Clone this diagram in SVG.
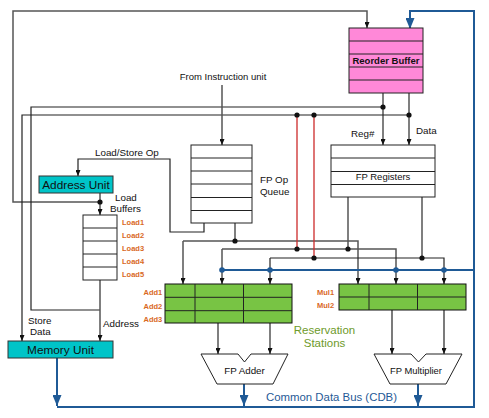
<svg xmlns="http://www.w3.org/2000/svg" width="489" height="418" viewBox="0 0 489 418">
<style>
text{font-family:"Liberation Sans",Arial,sans-serif;fill:#111}
.lbl{font-size:9.8px}
.unit{font-size:11.8px}
.ord{font-size:7.5px;font-weight:bold;fill:#D9691F}
.box{fill:#fff;stroke:#222;stroke-width:1}
.row{stroke:#222;stroke-width:1}
.teal{fill:#00C4C8;stroke:#333;stroke-width:1}
.green{fill:#78C444;stroke:#111;stroke-width:1}
.gw{fill:none;stroke:#555;stroke-width:1.5}
.kw{fill:none;stroke:#222;stroke-width:1.2}
.red{fill:none;stroke:#CC2A2A;stroke-width:1.3}
.blue{fill:none;stroke:#1F5A96;stroke-width:2}
.dot{fill:#111}
.bdot{fill:#1F5A96}
</style>
<defs>
<marker id="ah" markerUnits="userSpaceOnUse" markerWidth="6" markerHeight="5" refX="6" refY="2.5" orient="auto" viewBox="0 0 6 5">
<path d="M0,0 L6,2.5 L0,5 Z" fill="#111"/>
</marker>
<marker id="ab" markerUnits="userSpaceOnUse" markerWidth="11" markerHeight="9" refX="11" refY="4.5" orient="auto" viewBox="0 0 11 9">
<path d="M0,0 L11,4.5 L0,9 Z" fill="#1F5A96"/>
</marker>
</defs>

<g id="connectors">
<path class="gw" d="M100,202 H13 V11 H367 V28" marker-end="url(#ah)"/>
<path class="gw" d="M100,193 V215" marker-end="url(#ah)"/>
<path class="gw" d="M383,93 V145" marker-end="url(#ah)"/>
<path class="gw" d="M409,93 V145" marker-end="url(#ah)"/>
<path class="kw" d="M383,107 H31 V310 H100"/>
<path class="kw" d="M409,115 H22 V341" marker-end="url(#ah)"/>
<path class="gw" d="M100,280 V341" marker-end="url(#ah)"/>
<path class="gw" d="M222,85 V145" marker-end="url(#ah)"/>
<path class="kw" d="M204,223 V232 H170 V159 H78 V176" marker-end="url(#ah)"/>
<path class="gw" d="M235,223 V241"/>
<path class="gw" d="M183,241 V284" marker-end="url(#ah)"/>
<path class="gw" d="M183,241 H358 V284" marker-end="url(#ah)"/>
<path class="gw" d="M222,249 V284" marker-end="url(#ah)"/>
<path class="gw" d="M222,249 H396 V284" marker-end="url(#ah)"/>
<path class="kw" d="M270,258 V284" marker-end="url(#ah)"/>
<path class="kw" d="M270,258 H444 V284" marker-end="url(#ah)"/>
<path class="gw" d="M348,197 V249"/>
<path class="gw" d="M422,197 V258"/>
<path class="red" d="M297,115 V249"/>
<path class="red" d="M314,115 V258"/>
<path class="gw" d="M218,323 V354" marker-end="url(#ah)"/>
<path class="gw" d="M270,323 V354" marker-end="url(#ah)"/>
<path class="kw" d="M392,310 V354" marker-end="url(#ah)"/>
<path class="kw" d="M444,310 V354" marker-end="url(#ah)"/>
<path class="blue" d="M57,407 H474 V11 H410 V29" marker-end="url(#ab)"/>
<path class="blue" d="M222,270 H474"/>
<path class="blue" d="M57,358 V406" marker-end="url(#ab)"/>
<path class="blue" d="M244,384 V406" marker-end="url(#ab)"/>
<path class="blue" d="M418,384 V406" marker-end="url(#ab)"/>
<circle class="dot" cx="100" cy="202" r="2.6"/>
<circle class="dot" cx="383" cy="107" r="2.6"/>
<circle class="dot" cx="409" cy="115" r="2.6"/>
<circle class="dot" cx="297" cy="115" r="2.6"/>
<circle class="dot" cx="314" cy="115" r="2.6"/>
<circle class="dot" cx="235" cy="241" r="2.6"/>
<circle class="dot" cx="297" cy="249" r="2.6"/>
<circle class="dot" cx="348" cy="249" r="2.6"/>
<circle class="dot" cx="314" cy="258" r="2.6"/>
<circle class="dot" cx="422" cy="258" r="2.6"/>
<circle class="bdot" cx="222" cy="270" r="2.8"/>
<circle class="bdot" cx="270" cy="270" r="2.8"/>
<circle class="bdot" cx="396" cy="270" r="2.8"/>
<circle class="bdot" cx="444" cy="270" r="2.8"/>
</g>

<g id="rob">
<rect x="349" y="28" width="74" height="65" fill="#FF88D8" stroke="#222" stroke-width="1"/>
<path class="row" d="M349,41 H423 M349,54 H423 M349,67 H423 M349,80 H423"/>
<text x="386" y="63.5" font-size="9.5" font-weight="bold" text-anchor="middle">Reorder Buffer</text>
</g>

<g id="fp-registers">
<rect class="box" x="331" y="145" width="104" height="52"/>
<path class="row" d="M331,158 H435 M331,171.5 H435 M331,184.5 H435"/>
<text x="383" y="179.5" text-anchor="middle" style="font-size:9.5px">FP Registers</text>
</g>

<g id="fp-op-queue">
<rect class="box" x="191" y="145" width="61" height="78"/>
<path class="row" d="M191,158 H252 M191,171 H252 M191,184 H252 M191,197.5 H252 M191,210.5 H252"/>
<text class="lbl" x="260" y="183">FP Op</text>
<text class="lbl" x="260" y="195">Queue</text>
</g>

<g id="address-unit">
<rect class="teal" x="39" y="176" width="74" height="17"/>
<text class="unit" x="76" y="189" text-anchor="middle">Address Unit</text>
</g>

<g id="load-buffers">
<rect class="box" x="83" y="215" width="34" height="65"/>
<path class="row" d="M83,228 H117 M83,241 H117 M83,254 H117 M83,267 H117"/>
<text class="lbl" x="115" y="200.5">Load</text>
<text class="lbl" x="110" y="212">Buffers</text>
<text class="ord" x="122" y="224.5">Load1</text>
<text class="ord" x="122" y="237.5">Load2</text>
<text class="ord" x="122" y="250.5">Load3</text>
<text class="ord" x="122" y="263.5">Load4</text>
<text class="ord" x="122" y="276.5">Load5</text>
</g>

<g id="memory-unit">
<rect class="teal" x="8" y="341" width="105" height="17"/>
<text class="unit" x="60.5" y="354" text-anchor="middle">Memory Unit</text>
</g>

<g id="add-rs">
<rect class="green" x="165" y="284" width="127" height="39"/>
<path class="row" d="M165,297.3 H292 M165,310.7 H292 M195,284 V323 M243.5,284 V323"/>
<text class="ord" x="143.5" y="295">Add1</text>
<text class="ord" x="143.5" y="308.5">Add2</text>
<text class="ord" x="143.5" y="321.5">Add3</text>
</g>

<g id="mul-rs">
<rect class="green" x="339" y="284" width="127" height="26"/>
<path class="row" d="M339,297 H466 M369,284 V310 M417.5,284 V310"/>
<text class="ord" x="317" y="295">Mul1</text>
<text class="ord" x="317" y="308">Mul2</text>
</g>

<g id="fp-adder">
<polygon points="201,354 238,354 244.5,362 251,354 288,354 273,384 217,384" fill="#fff" stroke="#222" stroke-width="1"/>
<text class="lbl" x="244.5" y="373.5" text-anchor="middle">FP Adder</text>
</g>

<g id="fp-multiplier">
<polygon points="374,354 411,354 418.5,362 426,354 462,354 446,384 390,384" fill="#fff" stroke="#222" stroke-width="1"/>
<text x="416" y="373.5" text-anchor="middle" style="font-size:9.4px">FP Multiplier</text>
</g>

<g id="labels">
<text x="223" y="80" text-anchor="middle" style="font-size:9.5px">From Instruction unit</text>
<text class="lbl" x="95" y="155.5">Load/Store Op</text>
<text class="lbl" x="351" y="137">Reg#</text>
<text class="lbl" x="416" y="134">Data</text>
<text class="lbl" x="28" y="324">Store</text>
<text class="lbl" x="30" y="335">Data</text>
<text class="lbl" x="103" y="327">Address</text>
<text x="324.5" y="333.5" text-anchor="middle" style="font-size:11.5px;fill:#6E9A2A">Reservation</text>
<text x="324.5" y="346.5" text-anchor="middle" style="font-size:11.5px;fill:#6E9A2A">Stations</text>
<text x="331.5" y="401" text-anchor="middle" style="font-size:11.4px;fill:#1F5A96">Common Data Bus (CDB)</text>
</g>
</svg>
